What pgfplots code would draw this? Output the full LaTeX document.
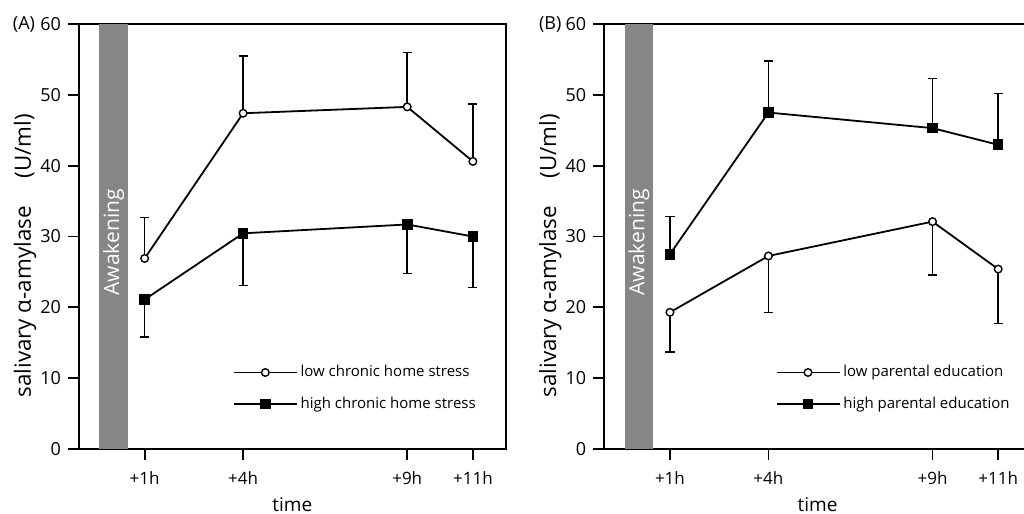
\documentclass[border=0pt]{standalone}
\usepackage{pgfplots}
\usepackage{pgfplotstable}
\pgfplotsset{compat=1.18}
\usepackage{fontspec}
\setmainfont{Open Sans}
\definecolor{awake}{RGB}{134,134,134}

\pgfplotstableread{
x y e
1 26.9 5.8
4 47.4 8.1
9 48.3 7.65
11 40.6 8.1
}\Alow
\pgfplotstableread{
x y e
1 21.1 5.3
4 30.45 7.35
9 31.7 6.9
11 30.0 7.2
}\Ahigh
\pgfplotstableread{
x y e
1 19.3 5.6
4 27.25 7.95
9 32.1 7.5
11 25.4 7.7
}\Blow
\pgfplotstableread{
x y e
1 27.5 5.3
4 47.5 7.3
9 45.3 7.0
11 42.95 7.25
}\Bhigh

\begin{document}
\begin{tikzpicture}
\pgfplotsset{
  panel/.style={
    scale only axis, width=213.35pt, height=212.5pt,
    xmin=-1, xmax=12, ymin=0, ymax=60,
    xtick={1,4,9,11}, xticklabels={+1h,+4h,+9h,+11h},
    ytick={0,10,...,60},
    tick pos=left, tick align=outside,
    major tick length=5.5pt,
    tick style={line width=0.9pt, black},
    axis line style={line width=0.9pt},
    /pgf/number format/assume math mode=true,
    yticklabel style={font=\fontsize{9}{10}\selectfont},
    xticklabel style={font=\fontsize{8.5}{10}\selectfont, yshift=-2.5pt},
    every axis x label/.style={at={(axis description cs:0.5,0)}, anchor=center, yshift=-27.8pt, font=\fontsize{9.5}{11}\selectfont},
    every axis y label/.style={at={(axis description cs:0,0.455)}, anchor=center, xshift=-27pt, rotate=90, font=\fontsize{11.2}{13}\selectfont},
    xlabel={time},
    ylabel={salivary α-amylase\hspace{14pt}(U/ml)},
    legend cell align=left,
    legend image code/.code={\draw[mark repeat=2,mark phase=2,##1,line width=0.8pt] plot coordinates {(0pt,0pt) (15.75pt,0pt) (31.5pt,0pt)};},
    legend style={draw=none, fill=none, anchor=north west, inner sep=0pt,
      font=\fontsize{7.5}{9}\selectfont, row sep=5.5pt, nodes={inner sep=1.5pt}},
  },
  lowst/.style={black, line width=0.9pt, mark=*, mark size=1.9pt,
    mark options={fill=white, line width=0.7pt},
    error bars/y explicit, error bars/error bar style={line width=0.75pt},
    error bars/error mark options={rotate=90, mark size=2.3pt, line width=0.75pt}},
  highst/.style={black, line width=0.9pt, mark=square*, mark size=2.2pt,
    mark options={fill=black},
    error bars/y explicit, error bars/error bar style={line width=0.75pt},
    error bars/error mark options={rotate=90, mark size=2.3pt, line width=0.75pt}},
}
\begin{axis}[panel, name=A, at={(39.5pt,0pt)}, anchor=south west,
  legend style={at={(axis cs:3.68,12.3)}}]
\addplot[fill=awake, draw=none, forget plot] coordinates {(-0.38,0) (0.49,0) (0.49,60) (-0.38,60)} --cycle;
\node[rotate=90, text=white, font=\fontsize{10.5}{12}\selectfont] at (axis cs:0.055,29.2) {Awakening};
\addplot[lowst, error bars/y dir=plus] table[x=x,y=y,y error=e] {\Alow};
\addlegendentry{low chronic home stress}
\addplot[highst, error bars/y dir=minus] table[x=x,y=y,y error=e] {\Ahigh};
\addlegendentry{high chronic home stress}
\end{axis}
\node[font=\fontsize{9}{10}\selectfont] at ([xshift=-27.5pt]A.north west) {(A)};

\begin{axis}[panel, name=B, at={(302.15pt,0pt)}, anchor=south west,
  legend style={at={(axis cs:4.21,12.3)}}]
\addplot[fill=awake, draw=none, forget plot] coordinates {(-0.38,0) (0.49,0) (0.49,60) (-0.38,60)} --cycle;
\node[rotate=90, text=white, font=\fontsize{10.5}{12}\selectfont] at (axis cs:0.055,29.2) {Awakening};
\addplot[lowst, error bars/y dir=minus] table[x=x,y=y,y error=e] {\Blow};
\addlegendentry{low parental education}
\addplot[highst, error bars/y dir=plus] table[x=x,y=y,y error=e] {\Bhigh};
\addlegendentry{high parental education}
\end{axis}
\node[font=\fontsize{9}{10}\selectfont] at ([xshift=-27pt]B.north west) {(B)};

\pgfresetboundingbox
\path[use as bounding box] (0pt,-32.5pt) rectangle (512pt,224.5pt);
\end{tikzpicture}
\end{document}
